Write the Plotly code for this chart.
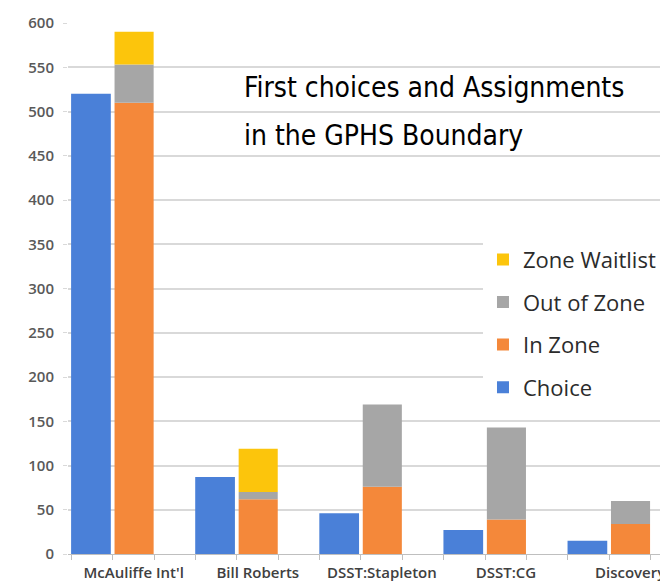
import plotly.graph_objects as go

categories = ["McAuliffe Int'l", "Bill Roberts", "DSST:Stapleton", "DSST:CG", "Discovery"]
choice = [520, 87, 46, 27, 15]
in_zone = [510, 62, 76, 39, 34]
out_of_zone = [43, 8, 93, 104, 26]
zone_waitlist = [37, 49, 0, 0, 0]
y_ticks = list(range(0, 601, 50))
title_lines = ["First choices and Assignments", "in the GPHS Boundary"]

xpos = list(range(len(categories)))
base_out = in_zone
base_wait = [a + b for a, b in zip(in_zone, out_of_zone)]

BLUE = "#4a80d8"
ORANGE = "#f4883a"
GRAY = "#a6a6a6"
YELLOW = "#fcc50c"

fig = go.Figure()
fig.add_trace(go.Bar(x=xpos, y=choice, name="Choice", marker_color=BLUE,
                     offset=-0.335, width=0.32, legendrank=4))
fig.add_trace(go.Bar(x=xpos, y=in_zone, name="In Zone", marker_color=ORANGE,
                     offset=0.015, width=0.315, legendrank=3))
fig.add_trace(go.Bar(x=xpos, y=out_of_zone, base=base_out, name="Out of Zone",
                     marker_color=GRAY, offset=0.015, width=0.315, legendrank=2))
fig.add_trace(go.Bar(x=xpos, y=zone_waitlist, base=base_wait, name="Zone Waitlist",
                     marker_color=YELLOW, offset=0.015, width=0.315, legendrank=1))
for i, t in enumerate(fig.data):
    t.marker.line.width = 0
    t.legendgroup = "g%d" % i

for line, ypos in zip(title_lines, [0.879, 0.789]):
    fig.add_annotation(
        text=line,
        xref="paper", yref="paper", x=0.294, y=ypos, xanchor="left", yanchor="middle",
        showarrow=False, align="left",
        font=dict(family="DejaVu Sans Condensed, Roboto, sans-serif", size=28, color="#000000"),
    )

fig.update_layout(
    width=660, height=576,
    margin=dict(l=60, r=8, t=15, b=30, autoexpand=False),
    paper_bgcolor="white", plot_bgcolor="white",
    barmode="overlay",
    showlegend=True,
    legend=dict(
        x=0.701, y=0.594, xanchor="left", yanchor="top",
        traceorder="grouped", tracegroupgap=11,
        bgcolor="white",
        font=dict(family="Open Sans", size=22, color="#2b2b2b"),
    ),
    xaxis=dict(
        range=[-0.36, 4.41], tickvals=xpos, ticktext=categories,
        automargin=False,
        showgrid=False, zeroline=False,
        showline=True, linecolor="#bfbfbf", linewidth=1,
        ticks="outside", ticklen=5, tickcolor="#bfbfbf",
        minor=dict(dtick=1/3, tick0=0, ticks="outside", ticklen=5, tickcolor="#bfbfbf", showgrid=False),
        ticklabelshift=21,
        tickfont=dict(family="Open Sans", size=15, color="#404040", weight=600),
    ),
    yaxis=dict(
        range=[0, 600], tickvals=y_ticks,
        automargin=False,
        showgrid=True, gridcolor="#d9d9d9", gridwidth=1.5,
        zeroline=False, showline=False,
        ticks="outside", ticklen=4, tickcolor="#d9d9d9",
        ticklabelstandoff=6,
        tickfont=dict(family="Open Sans", size=15, color="#595959", weight=600),
    ),
)

fig.write_html("out.html")
